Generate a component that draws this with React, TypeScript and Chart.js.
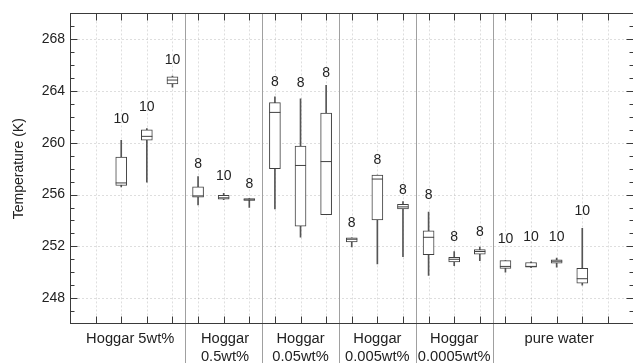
import React, { useEffect, useRef } from "react";
import { Chart, registerables } from "chart.js";

Chart.register(...registerables);

// ---- data (Temperature in K) ----
const positions = [2, 3, 4, 5, 6, 7, 8, 9, 10, 11, 12, 13, 14, 15, 16, 17, 18, 19, 20];
const whiskerLow = [256.6, 256.95, 264.3, 255.2, 255.6, 255.0, 254.9, 252.7, 254.45, 251.95, 250.65, 251.2, 249.75, 250.5, 250.9, 250.0, 250.35, 250.4, 249.0];
const q1 = [256.7, 260.2, 264.55, 255.8, 255.65, 255.55, 258.0, 253.55, 254.45, 252.35, 254.05, 254.9, 251.35, 250.8, 251.4, 250.3, 250.4, 250.7, 249.15];
const median = [256.9, 260.5, 264.85, 255.9, 255.75, 255.6, 262.35, 258.25, 258.55, 252.55, 257.2, 255.05, 252.7, 251.0, 251.6, 250.45, 250.45, 250.85, 249.5];
const q3 = [258.9, 261.0, 265.1, 256.6, 255.95, 255.7, 263.1, 259.75, 262.3, 252.65, 257.5, 255.25, 253.2, 251.15, 251.75, 250.9, 250.75, 250.95, 250.3];
const whiskerHigh = [260.2, 261.1, 265.15, 257.4, 256.1, 255.7, 263.55, 263.4, 264.45, 252.65, 257.5, 255.45, 254.65, 251.6, 251.95, 250.9, 250.8, 251.1, 253.4];
const counts = [10, 10, 10, 8, 10, 8, 8, 8, 8, 8, 8, 8, 8, 8, 8, 10, 10, 10, 10];
const countLabelAt = [261.84, 262.72, 266.39, 258.38, 257.45, 256.84, 264.72, 264.62, 265.37, 253.78, 258.66, 256.35, 255.99, 252.75, 253.08, 252.58, 252.7, 252.75, 254.7];

const groupLabels = [["Hoggar 5wt%"], ["Hoggar", "0.5wt%"], ["Hoggar", "0.05wt%"], ["Hoggar", "0.005wt%"], ["Hoggar", "0.0005wt%"], ["pure water"]];
const groupCenters = [2.35, 6.05, 9, 12, 15, 19.1];
const groupSeparators = [4.5, 7.5, 10.5, 13.5, 16.5];
const xTickPositions = [1, 2, 3, 4, 5, 6, 7, 8, 9, 10, 11, 12, 13, 14, 15, 16, 17, 18, 19, 20, 21];
const yMajorTicks = [248, 252, 256, 260, 264, 268];
const yMinorTicks = [247, 249, 250, 251, 253, 254, 255, 257, 258, 259, 261, 262, 263, 265, 266, 267, 269];

const FONT = "'Liberation Sans', Arial, Helvetica, sans-serif";
const AXIS_COLOR = "#3a3a3a";
const BOX_COLOR = "#404040";
const TEXT_COLOR = "#222";

const framePlugin = {
  id: "framePlugin",
  beforeDatasetsDraw(chart: any) {
    const { ctx, chartArea: a, scales } = chart;
    const x = scales.x, y = scales.y;
    ctx.save();
    ctx.strokeStyle = "rgba(0,0,0,0.13)";
    ctx.lineWidth = 1;
    ctx.setLineDash([2, 2]);
    for (const v of xTickPositions) {
      const px = Math.round(x.getPixelForValue(v)) + 0.5;
      ctx.beginPath();
      ctx.moveTo(px, a.top);
      ctx.lineTo(px, a.bottom);
      ctx.stroke();
    }
    for (const v of yMajorTicks) {
      const py = Math.round(y.getPixelForValue(v)) + 0.5;
      ctx.beginPath();
      ctx.moveTo(a.left, py);
      ctx.lineTo(a.right, py);
      ctx.stroke();
    }
    ctx.restore();
  },
  afterDatasetsDraw(chart: any) {
    const { ctx, chartArea: a, scales } = chart;
    const x = scales.x, y = scales.y;
    const L = Math.round(a.left) + 0.5, R = Math.round(a.right) - 0.5;
    const T = Math.round(a.top) + 0.5, B = Math.round(a.bottom) - 0.5;
    ctx.save();
    // group separators
    ctx.strokeStyle = "#a0a0a0";
    ctx.lineWidth = 1;
    for (const v of groupSeparators) {
      const px = Math.round(x.getPixelForValue(v)) + 0.5;
      ctx.beginPath();
      ctx.moveTo(px, T);
      ctx.lineTo(px, chart.height);
      ctx.stroke();
    }
    // frame
    ctx.strokeStyle = AXIS_COLOR;
    ctx.strokeRect(L, T, R - L, B - T);
    // x ticks (top & bottom, inward)
    for (const v of xTickPositions) {
      const px = Math.round(x.getPixelForValue(v)) + 0.5;
      ctx.beginPath();
      ctx.moveTo(px, T);
      ctx.lineTo(px, T + 7);
      ctx.moveTo(px, B);
      ctx.lineTo(px, B - 7);
      ctx.stroke();
    }
    // y ticks (left & right, inward)
    const drawY = (v: number, len: number) => {
      const py = Math.round(y.getPixelForValue(v)) + 0.5;
      ctx.beginPath();
      ctx.moveTo(L, py);
      ctx.lineTo(L + len, py);
      ctx.moveTo(R, py);
      ctx.lineTo(R - len, py);
      ctx.stroke();
    };
    yMajorTicks.forEach((v) => drawY(v, 7));
    yMinorTicks.forEach((v) => drawY(v, 4));
    // count labels
    ctx.fillStyle = TEXT_COLOR;
    ctx.font = `14px ${FONT}`;
    ctx.textAlign = "center";
    ctx.textBaseline = "middle";
    positions.forEach((p, i) => {
      ctx.fillText(String(counts[i]), x.getPixelForValue(p), y.getPixelForValue(countLabelAt[i]));
    });
    ctx.restore();
  },
};

export default function App() {
  const ref = useRef<HTMLCanvasElement | null>(null);
  useEffect(() => {
    if (!ref.current) return;
    Chart.defaults.font.family = FONT;
    const chart = new Chart(ref.current, {
      type: "bar",
      data: {
        datasets: [
          {
            type: "bar",
            label: "whiskers",
            data: positions.map((p, i) => ({ x: p, y: [whiskerLow[i], whiskerHigh[i]] })) as any,
            backgroundColor: "#555555",
            borderWidth: 0,
            barThickness: 1,
            grouped: false,
            order: 3,
          } as any,
          {
            type: "bar",
            label: "boxes",
            data: positions.map((p, i) => ({ x: p, y: [q1[i], q3[i]] })) as any,
            backgroundColor: "#ffffff",
            borderColor: BOX_COLOR,
            borderWidth: 1,
            borderSkipped: false,
            barThickness: 11,
            grouped: false,
            order: 2,
          } as any,
          {
            type: "scatter",
            label: "median",
            data: positions.map((p, i) => ({ x: p, y: median[i] })),
            pointStyle: "line",
            pointRadius: 5.5,
            pointHoverRadius: 5.5,
            pointBorderColor: BOX_COLOR,
            pointBorderWidth: 1,
            showLine: false,
            order: 1,
          } as any,
        ],
      },
      options: {
        animation: false,
        responsive: false,
        devicePixelRatio: 1,
        layout: { padding: { top: 12, right: 4.5, left: 0, bottom: 0 } },
        plugins: { legend: { display: false }, tooltip: { enabled: false } },
        scales: {
          x: {
            type: "linear",
            min: 0,
            max: 22,
            offset: false,
            display: false,
          },
          x2: {
            type: "linear",
            position: "bottom",
            min: 0,
            max: 22,
            offset: false,
            grid: { display: false, drawTicks: false },
            border: { display: false },
            afterBuildTicks: (s: any) => {
              s.ticks = groupCenters.map((v) => ({ value: v }));
            },
            afterFit: (s: any) => {
              s.height = 39;
            },
            ticks: {
              autoSkip: false,
              maxRotation: 0,
              minRotation: 0,
              padding: 6,
              color: TEXT_COLOR,
              font: { size: 14.7, family: FONT },
              callback: (_v: any, i: number) => groupLabels[i],
            },
          },
          y: {
            type: "linear",
            min: 246,
            max: 270,
            grid: { display: false, drawTicks: false },
            border: { display: false },
            afterBuildTicks: (s: any) => {
              s.ticks = yMajorTicks.map((v) => ({ value: v }));
            },
            afterFit: (s: any) => {
              s.width = 70;
            },
            ticks: {
              padding: 5,
              color: TEXT_COLOR,
              font: { size: 14, family: FONT },
            },
            title: {
              display: true,
              text: "Temperature (K)",
              color: TEXT_COLOR,
              font: { size: 14, family: FONT },
              padding: { top: 11, bottom: 0 },
            },
          },
        },
      } as any,
      plugins: [framePlugin],
    });
    return () => chart.destroy();
  }, []);
  return (
    <div style={{ position: "absolute", left: 0, top: 0, width: 633, height: 363, overflow: "hidden", background: "#fff" }}>
      <canvas ref={ref} width={640} height={363} style={{ display: "block" }} />
    </div>
  );
}
